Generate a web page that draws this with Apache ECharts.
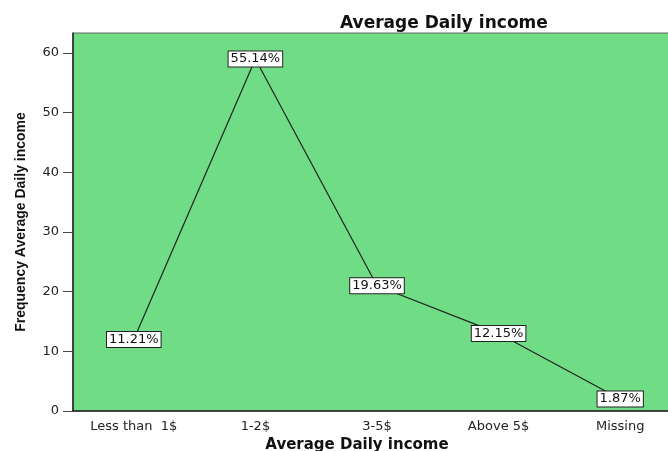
<!DOCTYPE html>
<html>
<head>
<meta charset="utf-8">
<script src="https://cdn.jsdelivr.net/npm/echarts@6/dist/echarts.min.js"></script>
<style>
  html, body { margin: 0; padding: 0; background: #fff; }
  #main { width: 668px; height: 451px; }
</style>
</head>
<body>
<div id="main"></div>
<script>
// categories and values
var categories = ['Less than  1$', '1-2$', '3-5$', 'Above 5$', 'Missing'];
var frequency = [12, 59, 21, 13, 2];
var percentLabels = ['11.21%', '55.14%', '19.63%', '12.15%', '1.87%'];
var yTicks = [0, 10, 20, 30, 40, 50, 60];

var myChart = echarts.init(document.getElementById('main'));

var tickFont = {
    color: '#222',
    fontFamily: 'DejaVu Sans, Liberation Sans, sans-serif',
    fontSize: 13
};

var option = {
    animation: false,
    title: {
        text: 'Average Daily income',
        left: 335,
        top: 10,
        textStyle: {
            fontFamily: 'DejaVu Sans, Liberation Sans, sans-serif',
            fontSize: 17,
            fontWeight: 'bold',
            color: '#111'
        }
    },
    grid: {
        left: 73,
        top: 33,
        bottom: 40,
        right: -13,
        outerBoundsMode: 'none',
        containLabel: false,
        show: true,
        backgroundColor: '#70dc85',
        borderColor: '#666',
        borderWidth: 1
    },
    xAxis: {
        type: 'category',
        data: categories,
        boundaryGap: true,
        name: 'Average Daily income',
        nameLocation: 'middle',
        nameGap: 22,
        nameTextStyle: {
            fontFamily: 'DejaVu Sans, Liberation Sans, sans-serif',
            fontSize: 15,
            fontWeight: 'bold',
            color: '#111',
            padding: [0, 40, 0, 0]
        },
        axisLine: { lineStyle: { color: '#222', width: 1.5 } },
        axisTick: { alignWithLabel: true, length: 5, lineStyle: { color: '#444' } },
        axisLabel: Object.assign({ margin: 9, interval: 0 }, tickFont)
    },
    yAxis: {
        type: 'value',
        min: 0,
        max: 63.35,
        interval: 10,
        name: 'Frequency Average Daily income',
        nameLocation: 'middle',
        nameRotate: 90,
        nameGap: 45,
        nameTextStyle: {
            fontFamily: 'Liberation Sans Narrow, Liberation Sans, Arial, sans-serif',
            fontSize: 14,
            fontWeight: 'bold',
            color: '#111'
        },
        splitLine: { show: false },
        axisLine: { show: true, lineStyle: { color: '#222', width: 1.5 } },
        axisTick: { show: true, length: 10, lineStyle: { color: '#444' } },
        axisLabel: Object.assign({
            showMaxLabel: false,
            margin: 14,
            formatter: function (v) { return yTicks.indexOf(v) >= 0 ? String(v) : ''; }
        }, tickFont)
    },
    series: [{
        type: 'line',
        data: frequency,
        symbol: 'circle',
        symbolSize: 1,
        showSymbol: true,
        itemStyle: { color: '#222' },
        lineStyle: { color: '#222', width: 1.2 },
        label: {
            show: true,
            position: 'inside',
            formatter: function (p) { return percentLabels[p.dataIndex]; },
            backgroundColor: '#fff',
            borderColor: '#222',
            borderWidth: 1,
            padding: [1, 2, 1, 2],
            color: '#111',
            fontFamily: 'DejaVu Sans, Liberation Sans, sans-serif',
            fontSize: 13
        }
    }]
};

myChart.setOption(option);
</script>
</body>
</html>
